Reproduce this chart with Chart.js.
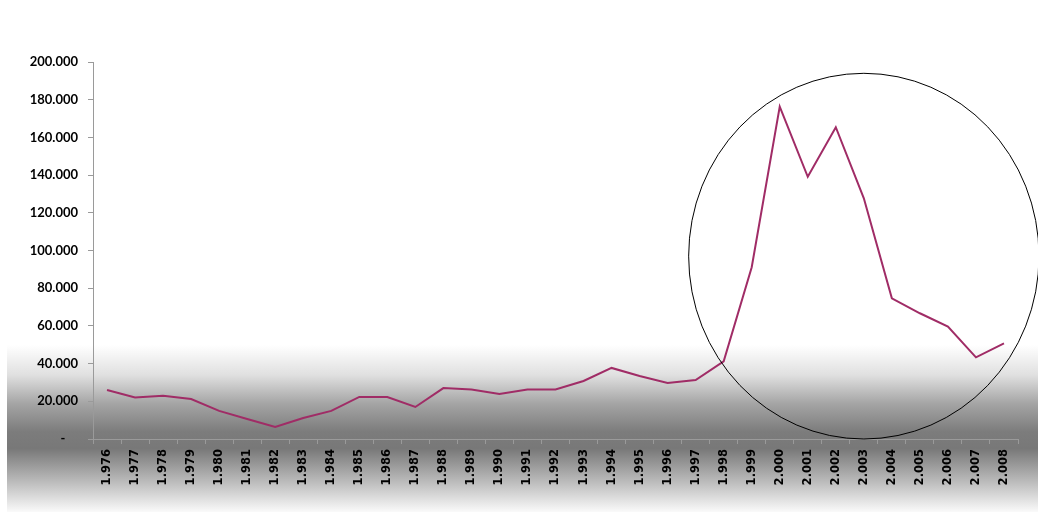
<!DOCTYPE html>
<html>
<head>
<meta charset="utf-8">
<script src="https://cdn.jsdelivr.net/npm/chart.js@4/dist/chart.umd.min.js"></script>
<style>
  html, body { margin: 0; padding: 0; background: #fff; }
  #wrap { width: 1038px; height: 512px; }
</style>
</head>
<body>
<div id="wrap"><canvas id="myChart" width="1038" height="512"></canvas></div>
<script>
let years = [1976, 1977, 1978, 1979, 1980, 1981, 1982, 1983, 1984, 1985, 1986,
             1987, 1988, 1989, 1990, 1991, 1992, 1993, 1994, 1995, 1996, 1997,
             1998, 1999, 2000, 2001, 2002, 2003, 2004, 2005, 2006, 2007, 2008]
let valores = [26000, 22000, 23000, 21200, 14900, 10600, 6400, 11100, 14900, 22300, 22300,
               17000, 27000, 26300, 23900, 26300, 26300, 30800, 37700, 33400, 29700, 31300,
               41200, 91100, 176300, 139100, 165400, 127700, 74600, 66700, 59600, 43300, 50700]
let yTicks = [0, 20000, 40000, 60000, 80000, 100000, 120000, 140000, 160000, 180000, 200000]

// miles con punto: 1976 -> "1.976"
function puntos(n) {
    return String(n).replace(/\B(?=(\d{3})+(?!\d))/g, '.')
}
let labels = years.map(puntos)

// fondo gris degradado en la parte baja
let fondo = {
    id: 'fondo',
    beforeDraw(chart) {
        let ctx = chart.ctx
        let g = ctx.createLinearGradient(0, 345, 0, 512)
        g.addColorStop(0, 'rgba(255,255,255,1)')
        g.addColorStop(0.18, '#e0e0e0')
        g.addColorStop(0.35, '#a5a5a5')
        g.addColorStop(0.52, '#7c7c7c')
        g.addColorStop(0.62, '#787878')
        g.addColorStop(0.8, '#b5b5b5')
        g.addColorStop(1, '#fafafa')
        ctx.save()
        ctx.fillStyle = '#fff'
        ctx.fillRect(0, 0, chart.width, chart.height)
        ctx.fillStyle = g
        ctx.fillRect(7, 345, chart.width - 7, 167)
        ctx.restore()
    }
}

// circulo alrededor del pico 1999-2008
let circulo = {
    id: 'circulo',
    afterDatasetsDraw(chart) {
        let x = chart.scales.x
        let y = chart.scales.y
        let paso = x.getPixelForValue(1) - x.getPixelForValue(0)
        let cx = x.getPixelForValue(27)
        let cy = y.getPixelForValue(97000)
        let ry = cy - y.getPixelForValue(194000)
        let rx = paso * 6.25
        let ctx = chart.ctx
        ctx.save()
        ctx.beginPath()
        ctx.ellipse(cx, cy, rx, ry, 0, 0, Math.PI * 2)
        ctx.strokeStyle = '#000'
        ctx.lineWidth = 1
        ctx.stroke()
        ctx.restore()
    }
}

let grafico = new Chart(document.getElementById('myChart').getContext('2d'), {
    type: 'line',
    data: {
        labels: labels,
        datasets: [{
            data: valores,
            borderColor: '#a02c66',
            borderWidth: 2,
            pointRadius: 0,
            tension: 0,
            fill: false
        }]
    },
    options: {
        responsive: false,
        animation: false,
        layout: { padding: { top: 62, right: 20, left: 0, bottom: 0 } },
        plugins: { legend: { display: false }, tooltip: { enabled: false } },
        scales: {
            x: {
                offset: true,
                grid: { offset: true, drawOnChartArea: false, drawTicks: true, tickLength: 5, color: '#9a9a9a' },
                border: { color: '#9a9a9a' },
                ticks: {
                    autoSkip: false,
                    maxRotation: 90,
                    minRotation: 90,
                    padding: 5,
                    color: '#000',
                    font: { family: 'DejaVu Sans', size: 11.5, weight: 'bold' }
                },
                afterFit(scale) { scale.height = 73 }
            },
            y: {
                min: 0,
                max: 200000,
                afterBuildTicks(scale) { scale.ticks = yTicks.map(v => ({ value: v })) },
                grid: { drawOnChartArea: false, drawTicks: true, tickLength: 5, color: '#9a9a9a' },
                border: { color: '#9a9a9a' },
                ticks: {
                    padding: 10,
                    color: '#000',
                    font: { family: 'Lato', size: 13, weight: 'bold' },
                    callback: v => v === 0 ? '-    ' : puntos(v)
                },
                afterFit(scale) { scale.width = 93 }
            }
        }
    },
    plugins: [fondo, circulo]
})
</script>
</body>
</html>
